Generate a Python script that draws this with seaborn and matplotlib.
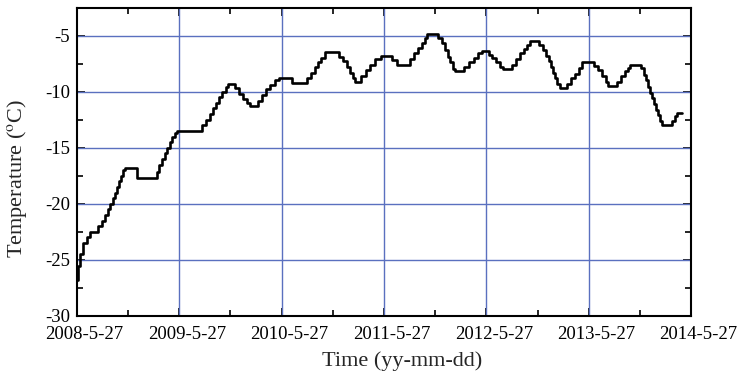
import numpy as np
import pandas as pd
import matplotlib
matplotlib.use("Agg")
import matplotlib.pyplot as plt
import matplotlib.transforms as mtransforms
import seaborn as sns

# ---- data ----
start_date = "2008-05-27"
days_since_start = [0, 4, 11, 21, 36, 46, 75, 89, 100, 111, 118, 129, 136, 143, 150, 157, 164, 171,
                    214, 286, 293, 303, 314, 321, 332, 339, 350, 357, 446, 461, 475, 486, 496, 507,
                    518, 532, 539, 564, 578, 593, 607, 618, 646, 660, 675, 689, 707, 721, 768, 821,
                    835, 850, 860, 871, 885, 935, 950, 964, 975, 985, 992, 1014, 1032, 1046, 1064,
                    1085, 1125, 1142, 1189, 1203, 1217, 1232, 1242, 1250, 1289, 1303, 1314, 1324,
                    1332, 1342, 1349, 1382, 1399, 1417, 1432, 1446, 1471, 1482, 1496, 1510, 1521,
                    1553, 1567, 1582, 1596, 1607, 1617, 1649, 1664, 1674, 1685, 1692, 1699, 1706,
                    1714, 1724, 1749, 1764, 1778, 1792, 1803, 1846, 1860, 1874, 1889, 1896, 1928,
                    1942, 1957, 1967, 1974, 2013, 2024, 2031, 2038, 2046, 2053, 2060, 2067, 2074,
                    2081, 2088, 2124, 2135, 2142, 2160]
temperature = [-26.8, -25.5, -24.5, -23.5, -23.0, -22.5, -22.0, -21.5, -21.0, -20.5, -20.0, -19.5,
               -19.0, -18.5, -18.0, -17.5, -17.0, -16.8, -17.7, -17.2, -16.5, -16.0, -15.5, -15.0,
               -14.5, -14.0, -13.7, -13.5, -13.0, -12.5, -12.0, -11.5, -11.0, -10.5, -10.0, -9.6,
               -9.3, -9.7, -10.2, -10.7, -11.0, -11.3, -10.8, -10.3, -9.8, -9.4, -9.0, -8.8, -9.2,
               -8.8, -8.3, -7.8, -7.4, -7.0, -6.5, -6.9, -7.3, -7.8, -8.3, -8.8, -9.1, -8.6, -8.1,
               -7.6, -7.1, -6.8, -7.2, -7.6, -7.1, -6.6, -6.1, -5.7, -5.2, -4.9, -5.2, -5.7, -6.3,
               -6.9, -7.4, -8.0, -8.2, -7.8, -7.4, -7.0, -6.6, -6.4, -6.7, -7.0, -7.4, -7.8, -8.0,
               -7.6, -7.1, -6.6, -6.2, -5.8, -5.5, -5.8, -6.3, -6.8, -7.3, -7.8, -8.3, -8.8, -9.3,
               -9.7, -9.3, -8.8, -8.4, -7.9, -7.4, -7.7, -8.1, -8.6, -9.1, -9.5, -9.1, -8.6, -8.2,
               -7.9, -7.6, -7.9, -8.5, -9.0, -9.6, -10.1, -10.6, -11.1, -11.6, -12.1, -12.6, -13.0,
               -12.6, -12.2, -11.9, -11.9]

x_tick_dates = ["2008-05-27", "2009-05-27", "2010-05-27", "2011-05-27",
                "2012-05-27", "2013-05-27", "2014-05-27"]
x_tick_labels = ["2008-5-27", "2009-5-27", "2010-5-27", "2011-5-27",
                 "2012-5-27", "2013-5-27", "2014-5-27"]
y_ticks = [-30, -25, -20, -15, -10, -5]
y_tick_labels = ["-30", "-25", "-20", "-15", "-10", "-5"]

df = pd.DataFrame({
    "time": pd.Timestamp(start_date) + pd.to_timedelta(days_since_start, unit="D"),
    "temp": temperature,
})

sns.set_style("ticks")
plt.rcParams["font.family"] = ["Liberation Serif", "DejaVu Serif"]
plt.rcParams["mathtext.fontset"] = "stix"

fig = plt.figure(figsize=(7.41, 3.76), dpi=100)
ax = fig.add_axes([77 / 741, 1 - 316 / 376, (691 - 77) / 741, (316 - 7.5) / 376])

sns.lineplot(data=df, x="time", y="temp", ax=ax, color="black", linewidth=1.9,
             drawstyle="steps-post", estimator=None, zorder=3)

xt = pd.to_datetime(x_tick_dates)
ax.set_xlim(xt[0], xt[-1])
ax.set_ylim(-30, -2.5)
ax.set_xticks(xt)
ax.set_xticklabels(x_tick_labels)
minor_x = [xt[i] + (xt[i + 1] - xt[i]) / 2 for i in range(len(xt) - 1)]
ax.set_xticks(minor_x, minor=True)
ax.set_yticks(y_ticks)
ax.set_yticklabels(y_tick_labels)
ax.set_yticks([v + 2.5 for v in y_ticks], minor=True)

grid_color = "#5a70bf"
for d in xt[1:-1]:
    ax.axvline(d, color=grid_color, linewidth=1.0, zorder=1)
for v in y_ticks[1:]:
    ax.axhline(v, color=grid_color, linewidth=1.0, zorder=1)

ax.tick_params(which="both", direction="in", top=True, right=True, width=1.2,
               labelsize=13.5, colors="black")
ax.tick_params(which="major", length=6)
ax.tick_params(axis="x", which="major", pad=7.5)
ax.tick_params(axis="y", which="major", pad=5)
ax.tick_params(which="minor", length=4)
for s in ax.spines.values():
    s.set_linewidth(1.5)
    s.set_color("black")

# reference tick labels sit slightly right of their ticks
offset = mtransforms.ScaledTranslation(7.5 / 100, 0, fig.dpi_scale_trans)
for lbl in ax.get_xticklabels():
    lbl.set_transform(lbl.get_transform() + offset)

ax.set_xlabel("Time (yy-mm-dd)", fontsize=16)
ax.set_ylabel(r"Temperature ($^{\rm o}$C)", fontsize=16)
ax.xaxis.set_label_coords((402 - 77) / 614, -(361 - 316) / 308.5)
ax.yaxis.set_label_coords(-(77 - 17) / 614, 1 - (178 - 7.5) / 308.5)
ax.xaxis.label.set_va("center")
ax.yaxis.label.set_va("center")

fig.savefig("out.png", dpi=100)
